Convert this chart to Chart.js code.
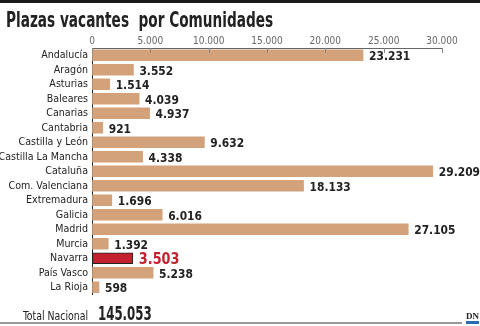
<!DOCTYPE html>
<html>
<head>
<meta charset="utf-8">
<style>
  html, body { margin: 0; padding: 0; background: #fff; }
  #wrap { position: relative; width: 480px; height: 326px; }
</style>
<script src="https://cdn.jsdelivr.net/npm/chart.js@4.4.1/dist/chart.umd.min.js"></script>
</head>
<body>
<div id="wrap"><canvas id="chart"></canvas></div>
<script>
// Plazas vacantes por Comunidades

const regions = ['Andalucía', 'Aragón', 'Asturias', 'Baleares', 'Canarias', 'Cantabria',
    'Castilla y León', 'Castilla La Mancha', 'Cataluña', 'Com. Valenciana', 'Extremadura',
    'Galicia', 'Madrid', 'Murcia', 'Navarra', 'País Vasco', 'La Rioja'];
const vacancies = [23231, 3552, 1514, 4039, 4937, 921, 9632, 4338, 29209, 18133, 1696,
    6016, 27105, 1392, 3503, 5238, 598];
const xTicks = [0, 5000, 10000, 15000, 20000, 25000, 30000];
const totalLabel = 'Total Nacional';
const totalValue = 145053;
const highlight = 'Navarra';

const FONT = "'Liberation Sans Narrow', 'DejaVu Sans Condensed', sans-serif";
const BAR = '#d4a27a';
const RED = '#c4212f';

function fmt(n) {
    return String(n).replace(/\B(?=(\d{3})+(?!\d))/g, '.');
}

// draw text squeezed horizontally (the original uses a condensed face)
function squeezed(ctx, text, x, y, sx, align) {
    ctx.save();
    ctx.translate(x, y);
    ctx.scale(sx, 1);
    ctx.textAlign = align || 'left';
    ctx.fillText(text, 0, 0);
    ctx.restore();
}

const decorations = {
    id: 'decorations',
    beforeDraw(chart) {
        const ctx = chart.ctx;
        ctx.save();
        ctx.fillStyle = '#fff';
        ctx.fillRect(0, 0, chart.width, chart.height);
        ctx.restore();
    },
    afterDraw(chart) {
        const ctx = chart.ctx;
        const x = chart.scales.x;
        const area = chart.chartArea;
        ctx.save();

        // top black band
        ctx.fillStyle = '#1a1a1a';
        ctx.fillRect(0, 0, chart.width, 3);

        // title
        ctx.fillStyle = '#222';
        ctx.font = 'bold 22px ' + FONT;
        ctx.textBaseline = 'alphabetic';
        squeezed(ctx, 'Plazas vacantes  por Comunidades', 6, 27, 0.69);

        // tick marks hanging below the top axis
        ctx.strokeStyle = '#888';
        ctx.lineWidth = 1;
        xTicks.forEach(v => {
            const px = Math.round(x.getPixelForValue(v)) + 0.5;
            ctx.beginPath();
            ctx.moveTo(px, area.top);
            ctx.lineTo(px, area.top + 5);
            ctx.stroke();
        });

        // value labels
        const meta = chart.getDatasetMeta(0);
        meta.data.forEach((bar, i) => {
            const isHi = regions[i] === highlight;
            ctx.fillStyle = isHi ? RED : '#222';
            ctx.font = 'bold ' + (isHi ? 15 : 12.5) + 'px ' + FONT;
            ctx.textBaseline = 'middle';
            squeezed(ctx, fmt(vacancies[i]), bar.x + 6, bar.y + 1.5, 0.95, 'left');
        });

        // total
        ctx.fillStyle = '#222';
        ctx.textBaseline = 'alphabetic';
        ctx.font = '13px ' + FONT;
        squeezed(ctx, totalLabel, 88, 320, 0.8, 'right');
        ctx.font = 'bold 19px ' + FONT;
        squeezed(ctx, fmt(totalValue), 98, 320, 0.69, 'left');

        // bottom rule
        ctx.fillStyle = '#999';
        ctx.fillRect(0, 322, 462, 2);

        // DN logo
        ctx.fillStyle = '#222';
        ctx.font = 'bold 9px "Liberation Serif", serif';
        ctx.textAlign = 'left';
        ctx.fillText('DN', 466, 319);
        ctx.fillStyle = '#2b6cb0';
        ctx.fillRect(466, 321, 13, 3);

        ctx.restore();
    }
};

const ctx = document.getElementById('chart');
new Chart(ctx, {
    type: 'bar',
    data: {
        labels: regions,
        datasets: [{
            data: vacancies,
            backgroundColor: regions.map(r => r === highlight ? RED : BAR),
            borderColor: regions.map(r => r === highlight ? '#222' : BAR),
            borderWidth: regions.map(r => r === highlight ? 1 : 0),
            borderSkipped: false,
            barThickness: 11
        }]
    },
    options: {
        indexAxis: 'y',
        responsive: true,
        maintainAspectRatio: false,
        animation: false,
        events: [],
        layout: {
            padding: { left: 0, top: 30, right: 38, bottom: 31.5 }
        },
        plugins: {
            legend: { display: false },
            tooltip: { enabled: false }
        },
        scales: {
            x: {
                position: 'top',
                min: 0,
                max: 30000,
                afterFit(scale) { scale.height = 18; },
                afterBuildTicks(scale) { scale.ticks = xTicks.map(v => ({ value: v })); },
                ticks: {
                    color: '#666',
                    font: { family: FONT, size: 10 },
                    padding: 1,
                    maxRotation: 0,
                    callback: v => fmt(v)
                },
                grid: { display: true, drawOnChartArea: false, drawTicks: false },
                border: { display: true, color: '#666', width: 1 }
            },
            y: {
                afterFit(scale) { scale.width = 92; },
                ticks: {
                    color: '#222',
                    font: { family: FONT, size: 10.6 },
                    padding: 4,
                    autoSkip: false
                },
                grid: { display: false, drawTicks: false },
                border: { display: true, color: '#222', width: 1 }
            }
        }
    },
    plugins: [decorations]
});
</script>
</body>
</html>
